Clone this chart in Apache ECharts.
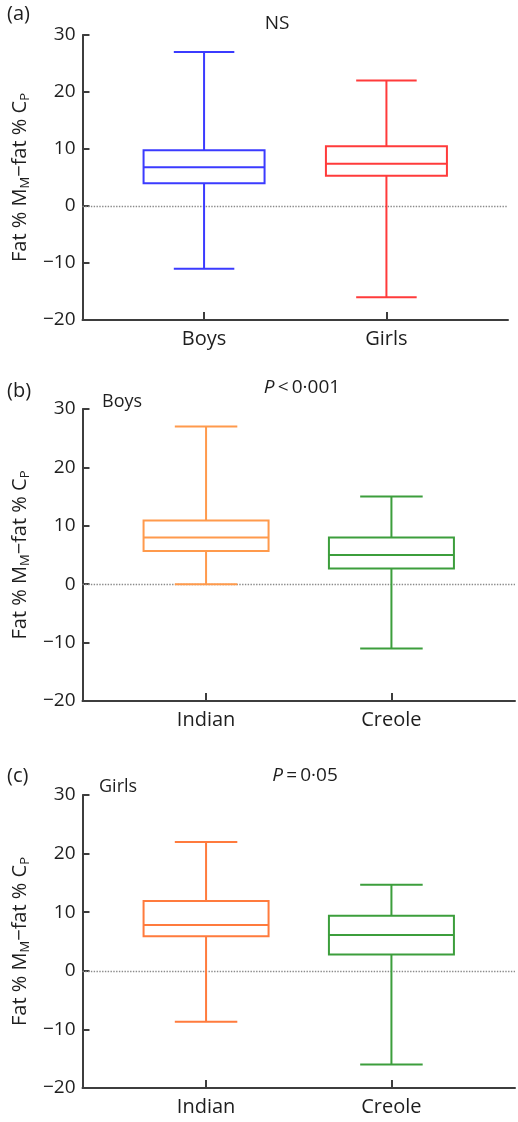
<!DOCTYPE html>
<html><head><meta charset="utf-8">
<script src="https://cdn.jsdelivr.net/npm/echarts@6/dist/echarts.min.js"></script>
<style>html,body{margin:0;padding:0;background:#fff}#c{width:518px;height:1122px}</style>
</head><body><div id="c"></div>
<script>
// Categories
const catsA = ['Boys', 'Girls'];
const catsBC = ['Indian', 'Creole'];
// Box values: [min, Q1, median, Q3, max]
const boysAll = [-11, 4.0, 6.8, 9.8, 27];
const girlsAll = [-16, 5.3, 7.4, 10.5, 22];
const boysIndian = [0, 5.7, 8.0, 10.9, 27];
const boysCreole = [-11, 2.7, 5.0, 8.0, 15];
const girlsIndian = [-8.7, 5.9, 7.8, 11.9, 22];
const girlsCreole = [-16, 2.8, 6.1, 9.4, 14.7];
// Axis
const yMin = -20, yMax = 30, yStep = 10;
const panelLetters = ['(a)', '(b)', '(c)'];
const panelTitles = ['NS', '{i|P}\u2009<\u20090\u00b7001', '{i|P}\u2009=\u20090\u00b705'];
const panelSubtitles = ['', 'Boys', 'Girls'];

const FONT = 'Open Sans';
const AXIS_COLOR = '#3d3d3d';
const TEXT_COLOR = '#1e1e1e';
const LW = 2;

const panels = [
  { cats: catsA, data: [boysAll, girlsAll], colors: ['#3b3bff', '#ff3b3b'],
    grid: { left: 80, top: 35, width: 428, height: 285 }, boxW: 121 },
  { cats: catsBC, data: [boysIndian, boysCreole], colors: ['#ff9a4c', '#3c9e3c'],
    grid: { left: 80, top: 409, width: 438, height: 292 }, boxW: 125 },
  { cats: catsBC, data: [girlsIndian, girlsCreole], colors: ['#ff7b3d', '#3c9e3c'],
    grid: { left: 80, top: 795, width: 438, height: 293 }, boxW: 125 }
];

// slot layout: two empty slots, category, two empty, category, two empty
function slots(cats) { return ['', '', cats[0], '', '', cats[1], '', '']; }

const grid = [], xAxis = [], yAxis = [], series = [];
panels.forEach((p, i) => {
  grid.push(Object.assign({ containLabel: false }, p.grid));
  const s = slots(p.cats);
  xAxis.push({
    type: 'category', gridIndex: i, data: s, boundaryGap: false,
    axisLine: { onZero: false, lineStyle: { color: AXIS_COLOR, width: LW } },
    axisTick: { inside: true, length: 8, interval: (idx, val) => val !== '', lineStyle: { color: AXIS_COLOR, width: LW } },
    axisLabel: { interval: 0, fontSize: 20, fontFamily: FONT, color: TEXT_COLOR, margin: 9 },
    splitLine: { show: false }
  });
  xAxis.push({ type: 'category', gridIndex: i, data: s, boundaryGap: false, show: false });
  yAxis.push({
    type: 'value', gridIndex: i, min: yMin, max: yMax, interval: yStep,
    name: 'Fat % M{s|M}\u2212fat % C{s|P}', nameLocation: 'middle', nameGap: 50,
    nameTextStyle: { fontSize: 20, fontFamily: FONT, color: TEXT_COLOR, lineHeight: 24,
      rich: { s: { fontSize: 13, fontFamily: FONT, color: TEXT_COLOR, verticalAlign: 'bottom', lineHeight: 24 } } },
    axisLine: { show: true, lineStyle: { color: AXIS_COLOR, width: LW } },
    axisTick: { show: true, inside: true, length: 7, lineStyle: { color: AXIS_COLOR, width: LW } },
    axisLabel: { fontSize: 19, fontFamily: FONT, color: TEXT_COLOR, margin: 7,
      formatter: v => (v < 0 ? '\u2212' + (-v) : String(v)) },
    splitLine: { show: false }
  });
  // whiskers + half-width caps
  series.push({
    type: 'boxplot', xAxisIndex: 2 * i + 1, yAxisIndex: i, z: 2,
    encode: { x: 0, y: [1, 2, 3, 4, 5] },
    boxWidth: [p.boxW / 2, p.boxW / 2],
    itemStyle: { color: '#fff', borderWidth: LW },
    emphasis: { disabled: true },
    data: p.cats.map((c, k) => ({ value: [c, p.data[k][0], p.data[k][2], p.data[k][2], p.data[k][2], p.data[k][4]],
      itemStyle: { borderColor: p.colors[k] } }))
  });
  // boxes with median
  series.push({
    type: 'boxplot', xAxisIndex: 2 * i, yAxisIndex: i, z: 3,
    encode: { x: 0, y: [1, 2, 3, 4, 5] },
    boxWidth: [p.boxW, p.boxW],
    itemStyle: { color: '#fff', borderWidth: LW },
    emphasis: { disabled: true },
    data: p.cats.map((c, k) => ({ value: [c, p.data[k][1], p.data[k][1], p.data[k][2], p.data[k][3], p.data[k][3]],
      itemStyle: { borderColor: p.colors[k] } })),
    markLine: { silent: true, symbol: 'none', z: 1, label: { show: false },
      lineStyle: { type: 'dotted', color: '#8a8a8a', width: 1.4 }, data: [{ yAxis: 0 }] }
  });
});

const letterPos = [[7, 4], [7, 381], [7, 766]];
const titlePos = [[277, 24], [302, 388], [305, 776]];
const subPos = [[0, 0], [102, 402], [99, 787]];
const graphic = [];
panels.forEach((p, i) => {
  graphic.push({ type: 'text', left: letterPos[i][0], top: letterPos[i][1],
    style: { text: panelLetters[i], fontSize: 20, fontFamily: FONT, fill: TEXT_COLOR } });
  graphic.push({ type: 'text', x: titlePos[i][0], y: titlePos[i][1],
    style: { text: panelTitles[i], fontSize: 19, fontFamily: FONT, fill: TEXT_COLOR, align: 'center', verticalAlign: 'middle',
      rich: { i: { fontStyle: 'italic', fontSize: 19, fontFamily: FONT, fill: TEXT_COLOR } } } });
  if (panelSubtitles[i]) graphic.push({ type: 'text', x: subPos[i][0], y: subPos[i][1],
    style: { text: panelSubtitles[i], fontSize: 18, fontFamily: FONT, fill: TEXT_COLOR, align: 'left', verticalAlign: 'middle' } });
});

const chart = echarts.init(document.getElementById('c'), null, { renderer: 'canvas' });
chart.setOption({ animation: false, backgroundColor: '#fff', grid, xAxis, yAxis, series, graphic });
</script>
</body></html>
